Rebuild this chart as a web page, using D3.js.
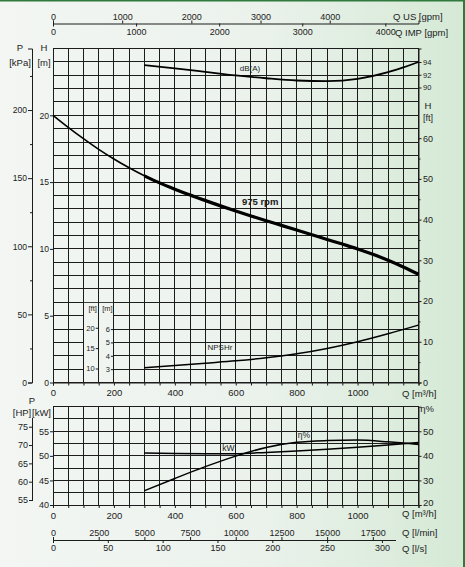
<!DOCTYPE html>
<html><head><meta charset="utf-8">
<script src="https://cdn.jsdelivr.net/npm/d3@7/dist/d3.min.js"></script>
<style>
html,body{margin:0;padding:0;background:#eef3ef;}
svg{display:block;}
</style></head><body>
<svg id="c" width="465" height="567"></svg>
<script>
// ---------- data ----------
const headQ = [0,50,100,150,200,250,300,350,400,450,500,550,600,650,700,750,800,850,900,950,1000,1050,1100,1150,1200];
const headM = [20.0,19.1,18.25,17.45,16.73,16.07,15.47,14.94,14.47,14.03,13.62,13.22,12.84,12.47,12.11,11.76,11.41,11.06,10.71,10.36,10.0,9.6,9.15,8.65,8.1];
const npshQ = [300,400,500,600,700,800,900,1000,1100,1200];
const npshM = [3.1,3.28,3.45,3.62,3.85,4.15,4.55,5.05,5.65,6.3];
const dbQ = [300,400,500,600,700,800,900,1000,1100,1150,1200];
const dbA = [93.5,93.0,92.45,91.9,91.45,91.1,91.0,91.35,92.4,93.15,94.0];
const kwQ = [300,400,500,600,700,800,900,1000,1100,1200];
const kwP = [50.6,50.5,50.45,50.45,50.7,51.0,51.35,51.75,52.2,52.7];
const effQ = [300,400,500,600,700,800,900,1000,1100,1200];
const effE = [25.8,30.8,35.6,39.9,43.4,45.5,46.2,46.4,45.7,44.6];

const qTicks = [0,200,400,600,800,1000];
const hTicks = [0,5,10,15,20];
const kpaTicks = [0,50,100,150,200];
const ftTicks = [0,10,20,30,40,50,60];
const dbTicks = [90,92,94];
const npshMTicks = [3,4,5,6];
const npshFtTicks = [10,15,20];
const kwTicks = [40,45,50,55];
const hpTicks = [55,60,65,70,75];
const effTicks = [20,30,40,50];
const usTicks = [0,1000,2000,3000,4000];
const impTicks = [0,1000,2000,3000,4000];
const lminTicks = [0,2500,5000,7500,10000,12500,15000,17500];
const lsTicks = [0,50,100,150,200,250,300];

// ---------- setup ----------
const FONT = "'Liberation Sans', Arial, Helvetica, sans-serif";
const ink = "#1c1c1c";
const fmt = d3.format("d");
const svg = d3.select("#c").attr("font-family", FONT);
const defs = svg.append("defs");
const grad = defs.append("linearGradient").attr("id","bg")
  .attr("gradientUnits","userSpaceOnUse").attr("x1",0).attr("y1",0).attr("x2",465).attr("y2",0);
grad.selectAll("stop").data([[0,"#f3f6f3"],[0.55,"#ebf2ec"],[1,"#d5e9d5"]]).join("stop")
  .attr("offset",d=>d[0]).attr("stop-color",d=>d[1]);
svg.append("rect").attr("width",465).attr("height",567).attr("fill","url(#bg)");
svg.append("rect").attr("x",0).attr("y",0).attr("width",465).attr("height",1.5).attr("fill","#2f7a3c");
svg.append("rect").attr("x",463).attr("y",0).attr("width",2).attr("height",567).attr("fill","#2f7a3c");

// scales
const x = d3.scaleLinear().domain([0,1200]).range([53,418.5]);
const yH = d3.scaleLinear().domain([0,25]).range([382.5,48.5]);
const yKpa = d3.scaleLinear().domain([0,25*9.80665]).range(yH.range());
const yFt = d3.scaleLinear().domain([0,25/0.3048]).range(yH.range());
const yDB = d3.scaleLinear().domain([90,94]).range([87.5,62]);
const yNm = d3.scaleLinear().domain([2,27]).range(yH.range());
const yNft = d3.scaleLinear().domain([2/0.3048,27/0.3048]).range(yH.range());
const yKW = d3.scaleLinear().domain([40,60]).range([505,406.7]);
const yHP = d3.scaleLinear().domain([40/0.7457,60/0.7457]).range(yKW.range());
const yEff = d3.scaleLinear().domain([20,60]).range(yKW.range());
const xUS = d3.scaleLinear().domain([0,1200/0.227125]).range(x.range());
const xIMP = d3.scaleLinear().domain([0,1200/0.272765]).range(x.range());
const xLmin = d3.scaleLinear().domain([0,1200/0.06]).range(x.range());
const xLs = d3.scaleLinear().domain([0,1200/3.6]).range(x.range());

function style(g, fs, hideDomain) {
  g.attr("font-family", FONT).attr("font-size", fs);
  g.selectAll("line").attr("stroke", ink);
  g.selectAll("path.domain").attr("stroke", ink).attr("display", hideDomain ? "none" : null);
  g.selectAll("text").attr("fill", ink);
  return g;
}
function txt(xp, yp, s, fs, anchor, weight) {
  return svg.append("text").attr("x",xp).attr("y",yp).text(s)
    .attr("font-size",fs).attr("fill",ink).attr("text-anchor",anchor||"start")
    .attr("font-weight",weight||"normal");
}

// ---------- top panel grid ----------
const gTop = svg.append("g").attr("shape-rendering","crispEdges").attr("stroke",ink).attr("stroke-width",1);
gTop.selectAll("line.h").data(d3.range(0,26)).join("line").attr("class","h")
  .attr("x1",x(0)).attr("x2",x(1200)).attr("y1",d=>yH(d)).attr("y2",d=>yH(d));
// clear area for NPSH mini axes
svg.append("rect").attr("x",x(100)+0.5).attr("width",x(200)-x(100)-1)
  .attr("y",yH(6)+0.5).attr("height",yH(0)-yH(6)-1).attr("fill","url(#bg)");
const gTopV = svg.append("g").attr("shape-rendering","crispEdges").attr("stroke",ink).attr("stroke-width",1);
gTopV.selectAll("line").data(d3.range(0,1201,50)).join("line")
  .attr("x1",d=>x(d)).attr("x2",d=>x(d)).attr("y1",yH(0)).attr("y2",yH(25));

// ---------- bottom panel grid ----------
const gBot = svg.append("g").attr("shape-rendering","crispEdges").attr("stroke",ink).attr("stroke-width",1);
gBot.selectAll("line.h").data(d3.range(40,60.01,2.5)).join("line").attr("class","h")
  .attr("x1",x(0)).attr("x2",x(1200)).attr("y1",d=>yKW(d)).attr("y2",d=>yKW(d));
gBot.selectAll("line.v").data(d3.range(0,1201,50)).join("line").attr("class","v")
  .attr("x1",d=>x(d)).attr("x2",d=>x(d)).attr("y1",yKW(40)).attr("y2",yKW(60));

// ---------- axes: top panel ----------
const allQ = d3.range(0,1201,50);
style(svg.append("g").attr("transform",`translate(0,${yH(0)})`)
  .call(d3.axisBottom(x).tickValues(allQ).tickSize(3).tickPadding(4)
    .tickFormat(d => qTicks.includes(d) ? fmt(d) : "")), 9.5);
txt(402, 396.5, "Q [m³/h]", 9.5);

// kPa axis
style(svg.append("g").attr("transform","translate(32,0)")
  .call(d3.axisLeft(yKpa).tickValues(kpaTicks).tickSize(4).tickPadding(1).tickFormat(fmt)), 8.6);
style(svg.append("g").attr("transform","translate(32,0)")
  .call(d3.axisLeft(yKpa).tickValues([25,75,125,175,225]).tickSize(2).tickFormat("")), 8.6, true);
txt(20, 50.5, "P", 9.5, "middle");
txt(20, 65.5, "[kPa]", 9.5, "middle");

// H m axis
style(svg.append("g").attr("transform",`translate(${x(0)},0)`)
  .call(d3.axisLeft(yH).tickValues(hTicks).tickSize(3).tickPadding(1).tickFormat(fmt)), 8.6, true);
txt(44, 50.5, "H", 9.5, "middle");
txt(44, 65.5, "[m]", 9.5, "middle");

// H ft axis (right)
style(svg.append("g").attr("transform",`translate(${x(1200)},0)`)
  .call(d3.axisRight(yFt).tickValues(ftTicks).tickSize(3).tickPadding(1.5).tickFormat(fmt)), 9);
style(svg.append("g").attr("transform",`translate(${x(1200)},0)`)
  .call(d3.axisRight(yFt).tickValues([5,15,25,35,45,55]).tickSize(2).tickFormat("")), 9, true);
txt(428, 109, "H", 9.5, "middle");
txt(428, 120.5, "[ft]", 9, "middle");

// dB axis (right, top)
style(svg.append("g").attr("transform",`translate(${x(1200)},0)`)
  .call(d3.axisRight(yDB).tickValues(dbTicks).tickSize(3).tickPadding(1.5).tickFormat(fmt)), 7.5, true);

// NPSH mini axes
style(svg.append("g").attr("transform",`translate(${x(200)},0)`)
  .call(d3.axisLeft(yNm).tickValues(npshMTicks).tickSize(3).tickPadding(1).tickFormat(fmt)), 7.5, true);
style(svg.append("g").attr("transform",`translate(${x(150)},0)`)
  .call(d3.axisLeft(yNft).tickValues(npshFtTicks).tickSize(3).tickPadding(1).tickFormat(fmt)), 7.5, true);
txt(x(150)-6, 311, "[ft]", 7.5, "middle");
txt(x(200)-6.5, 311, "[m]", 7.5, "middle");

// top flow axes
style(svg.append("g").attr("transform","translate(0,23.5)")
  .call(d3.axisTop(xUS).tickValues(usTicks).tickSize(3).tickPadding(1).tickFormat(fmt)), 9);
style(svg.append("g").attr("transform","translate(0,23.5)")
  .call(d3.axisBottom(xIMP).tickValues(impTicks).tickSize(3).tickPadding(1.8).tickFormat(fmt)), 9, true);
txt(393, 19.5, "Q US [gpm]", 9.5);
txt(395, 35.5, "Q IMP [gpm]", 9.5);

// ---------- axes: bottom panel ----------
style(svg.append("g").attr("transform",`translate(0,${yKW(40)})`)
  .call(d3.axisBottom(x).tickValues(allQ).tickSize(3).tickPadding(4)
    .tickFormat(d => qTicks.includes(d) ? fmt(d) : "")), 9.5);
txt(402, 517, "Q [m³/h]", 9.5);

style(svg.append("g").attr("transform",`translate(${x(0)},0)`)
  .call(d3.axisLeft(yKW).tickValues(kwTicks).tickSize(3).tickPadding(1).tickFormat(fmt)), 9, true);
style(svg.append("g").attr("transform","translate(32,0)")
  .call(d3.axisLeft(yHP).tickValues(hpTicks).tickSize(3).tickPadding(1).tickFormat(fmt)), 9, true);
svg.append("line").attr("x1",32).attr("x2",32).attr("y1",yHP(54.6)).attr("y2",yHP(77.3))
  .attr("stroke",ink).attr("shape-rendering","crispEdges");
txt(32, 404, "P", 9.5, "middle");
txt(22, 415.5, "[HP]", 9.5, "middle");
txt(41.5, 415.5, "[kW]", 9.5, "middle");

const gEff = style(svg.append("g").attr("transform",`translate(${x(1200)},0)`)
  .call(d3.axisRight(yEff).tickValues(effTicks).tickSize(3).tickPadding(1.5).tickFormat(fmt)), 9.5);
gEff.selectAll(".tick").filter(d => d === 20).select("text").attr("y", -3);
txt(427, 411.5, "η%", 9.5, "middle");

// l/min and l/s axes
style(svg.append("g").attr("transform","translate(0,540)")
  .call(d3.axisTop(xLmin).tickValues(lminTicks).tickSize(3).tickPadding(1.5).tickFormat(fmt)), 9, true);
style(svg.append("g").attr("transform","translate(0,540)")
  .call(d3.axisBottom(xLs).tickValues(lsTicks).tickSize(3).tickPadding(1.4).tickFormat(fmt)), 9, true);
svg.append("line").attr("x1",xLmin(0)).attr("x2",xLmin(18750)).attr("y1",540).attr("y2",540)
  .attr("stroke",ink).attr("shape-rendering","crispEdges");
txt(402, 535.5, "Q [l/min]", 9.5);
txt(402, 551.5, "Q [l/s]", 9.5);

// ---------- curves ----------
const lineH = d3.line().x(d=>x(d[0])).y(d=>yH(d[1])).curve(d3.curveMonotoneX);
const headPts = d3.zip(headQ, headM);
svg.append("path").attr("d", lineH(headPts)).attr("fill","none").attr("stroke","#000").attr("stroke-width",1.6);
svg.append("path").attr("d", lineH(headPts.filter(d=>d[0]>=300))).attr("fill","none")
  .attr("stroke","#000").attr("stroke-width",3.2);

const lineN = d3.line().x(d=>x(d[0])).y(d=>yNm(d[1])).curve(d3.curveMonotoneX);
svg.append("path").attr("d", lineN(d3.zip(npshQ,npshM))).attr("fill","none").attr("stroke","#000").attr("stroke-width",1.5);

const lineD = d3.line().x(d=>x(d[0])).y(d=>yDB(d[1])).curve(d3.curveMonotoneX);
svg.append("path").attr("d", lineD(d3.zip(dbQ,dbA))).attr("fill","none").attr("stroke","#000").attr("stroke-width",1.8);

const lineK = d3.line().x(d=>x(d[0])).y(d=>yKW(d[1])).curve(d3.curveMonotoneX);
svg.append("path").attr("d", lineK(d3.zip(kwQ,kwP))).attr("fill","none").attr("stroke","#000").attr("stroke-width",1.5);

const lineE = d3.line().x(d=>x(d[0])).y(d=>yEff(d[1])).curve(d3.curveMonotoneX);
svg.append("path").attr("d", lineE(d3.zip(effQ,effE))).attr("fill","none").attr("stroke","#000").attr("stroke-width",1.5);

// ---------- curve labels ----------
txt(x(680), yH(13.53)+3.4, "975 rpm", 9.5, "middle", "bold");
txt(x(647), 71, "dB(A)", 8, "middle");
txt(x(548), yH(2.63)+3, "NPSHr", 8, "middle");
txt(x(576), yKW(51.54)+3, "kW", 8.5, "middle");
txt(x(824), yEff(48.6)+3, "η%", 8.5, "middle");
</script>
</body></html>
